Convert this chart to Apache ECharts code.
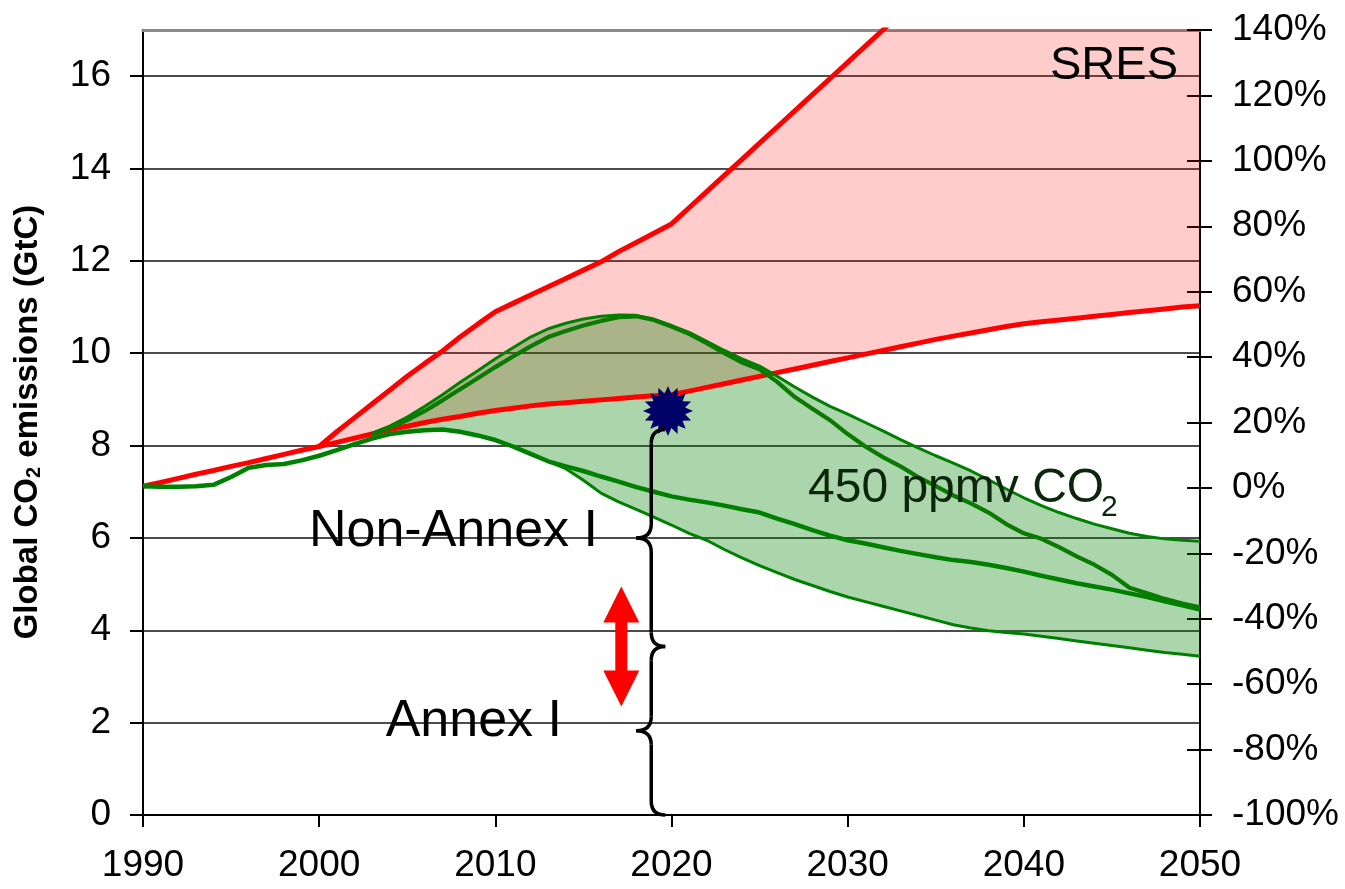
<!DOCTYPE html>
<html><head><meta charset="utf-8">
<script src="https://cdn.jsdelivr.net/npm/echarts@6/dist/echarts.min.js"></script>
<style>html,body{margin:0;padding:0;background:#fff}#c{width:1345px;height:889px}</style>
</head><body><div id="c"></div>
<script>
// ---------------- DATA (GtC) ----------------
const xTicks = [1990, 2000, 2010, 2020, 2030, 2040, 2050];
const yTicks = [0, 2, 4, 6, 8, 10, 12, 14, 16];
const pctTicks = [-100, -80, -60, -40, -20, 0, 20, 40, 60, 80, 100, 120, 140];

// historic + SRES lower bound, yearly from 1990
const sresLow = [7.12,7.20,7.29,7.38,7.46,7.55,7.63,7.72,7.81,7.90,
  7.98,8.07,8.16,8.25,8.35,8.42,8.50,8.57,8.63,8.70,
  8.76,8.81,8.86,8.90,8.93,8.96,8.99,9.02,9.05,9.08,
  9.10,9.18,9.26,9.34,9.42,9.50,9.58,9.66,9.74,9.82,
  9.90,9.98,10.06,10.14,10.22,10.30,10.37,10.44,10.51,10.58,
  10.64,10.68,10.72,10.76,10.80,10.84,10.88,10.92,10.96,11.00,11.03];
// SRES upper bound, yearly from 2000
const sresHigh = [7.98,8.30,8.60,8.90,9.20,9.50,9.78,10.05,10.35,10.63,
  10.90,11.08,11.26,11.44,11.62,11.80,11.98,12.20,12.40,12.60,
  12.80,13.15,13.50,13.85,14.20,14.55,14.90,15.25,15.60,15.95,
  16.30,16.65,17.00,17.35,17.70,18.00,18.40,18.70,19.10,19.40,
  19.80,20.10,20.50,20.80,21.20,21.50,21.90,22.20,22.60,22.90,23.10];
// 450 ppmv: main stabilisation path incl. historic, yearly from 1990
const path450 = [7.12,7.11,7.11,7.12,7.15,7.32,7.52,7.58,7.60,7.68,
  7.78,7.90,8.03,8.15,8.25,8.30,8.33,8.35,8.30,8.22,
  8.12,7.98,7.82,7.66,7.55,7.45,7.33,7.22,7.10,7.00,
  6.90,6.83,6.77,6.70,6.62,6.55,6.42,6.30,6.17,6.05,
  5.95,5.88,5.80,5.72,5.65,5.58,5.52,5.48,5.42,5.35,
  5.27,5.18,5.10,5.02,4.95,4.88,4.80,4.72,4.63,4.54,4.45];
// 450 ppmv overshoot path, yearly from 2003
const overshoot450 = [8.25,8.38,8.55,8.75,8.98,9.22,9.46,
  9.70,9.93,10.15,10.35,10.48,10.60,10.70,10.78,10.80,10.72,
  10.58,10.42,10.22,10.00,9.80,9.65,9.38,9.05,8.80,8.55,
  8.25,7.98,7.75,7.55,7.32,7.12,6.92,6.75,6.55,6.30,
  6.10,5.98,5.80,5.60,5.42,5.20,4.92,4.80,4.68,4.58,4.50];
// 450 ppmv range upper bound, yearly from 2003
const upper450 = [8.27,8.42,8.62,8.85,9.10,9.37,9.62,
  9.88,10.12,10.35,10.53,10.65,10.74,10.80,10.83,10.82,10.74,
  10.60,10.45,10.26,10.06,9.88,9.72,9.50,9.27,9.05,8.85,
  8.68,8.50,8.32,8.13,7.95,7.78,7.62,7.45,7.26,7.06,
  6.87,6.70,6.55,6.42,6.30,6.20,6.10,6.03,5.98,5.95,5.93];
// 450 ppmv range lower bound, yearly from 2003
const lower450 = [8.15,8.25,8.30,8.33,8.35,8.30,8.22,
  8.12,7.98,7.82,7.66,7.50,7.25,6.97,6.78,6.62,6.45,
  6.28,6.10,5.95,5.75,5.57,5.40,5.25,5.10,4.97,4.84,
  4.72,4.62,4.52,4.42,4.32,4.22,4.12,4.05,3.99,3.95,
  3.92,3.87,3.82,3.77,3.72,3.67,3.62,3.57,3.52,3.48,3.44];
const starPoint = [2019.8, 8.75];
// annotation anchors (data units)
const braceYear = 2018.85, braceLevels = [8.35, 3.65, 0];
const arrowYear = 2017.15, arrowRange = [2.35, 4.95];

// ---------------- helpers ----------------
const Y_MAX = 17;
const pairs = (start, vals) => vals.map((v, i) => [start + i, v]);
const FONT = 'Liberation Sans, Arial, sans-serif';
const starPath = (() => {
  let d = '';
  for (let i = 0; i < 32; i++) {
    const a = i * Math.PI / 16 - Math.PI / 2, r = i % 2 ? 70 : 100;
    d += (i ? 'L' : 'M') + (100 + r * Math.cos(a)).toFixed(2) + ' ' + (100 + r * Math.sin(a)).toFixed(2) + ' ';
  }
  return 'path://' + d + 'Z';
})();

// band polygon drawn through the axes' scales (api.coord)
function bandSeries(name, hiStart, hi, loStart, lo, start, fill) {
  return {
    type: 'custom', name, silent: true, clip: true, data: [[start, 0]],
    encode: {x: 0, y: 1},
    renderItem: (params, api) => {
      const top = [], bot = [];
      for (let i = 0; i < hi.length; i++) {
        const yr = hiStart + i;
        if (yr < start) continue;
        top.push(api.coord([yr, Math.min(hi[i], Y_MAX)]));
        bot.push(api.coord([yr, Math.min(lo[yr - loStart], Y_MAX)]));
      }
      return {type: 'polygon', shape: {points: top.concat(bot.reverse())}, style: {fill: fill}};
    }
  };
}

const chart = echarts.init(document.getElementById('c'), null, {renderer: 'canvas'});
const lineBase = {type: 'line', symbol: 'none', showSymbol: false, xAxisIndex: 0, yAxisIndex: 0, silent: true};
const option = {
  animation: false,
  grid: {left: 143, right: 145, top: 30, bottom: 74, containLabel: false},
  xAxis: [{
    type: 'value', min: 1990, max: 2050, interval: 10, position: 'bottom',
    axisLine: {onZero: false, lineStyle: {color: '#000', width: 2}},
    axisTick: {length: 12, lineStyle: {color: '#000', width: 2}},
    axisLabel: {color: '#000', fontSize: 37, fontFamily: FONT, margin: 32, formatter: v => String(v)},
    splitLine: {show: false}
  }, {
    type: 'value', min: 1990, max: 2050, position: 'top',
    axisLine: {show: true, onZero: false, lineStyle: {color: '#8a8a8a', width: 3}},
    axisTick: {show: false}, axisLabel: {show: false}, splitLine: {show: false}
  }],
  yAxis: [{
    type: 'value', min: 0, max: Y_MAX, interval: 2, position: 'left',
    axisLine: {show: true, onZero: false, lineStyle: {color: '#000', width: 2}},
    axisTick: {show: true, length: 13, lineStyle: {color: '#000', width: 2}, customValues: yTicks},
    axisLabel: {color: '#000', fontSize: 37, fontFamily: FONT, margin: 32, customValues: yTicks},
    splitLine: {show: true, lineStyle: {color: '#111', width: 1.6}}
  }, {
    type: 'value', min: -100, max: 140, interval: 20, position: 'right',
    axisLine: {show: true, onZero: false, lineStyle: {color: '#000', width: 2}},
    axisTick: {show: true, length: 12, lineStyle: {color: '#000', width: 2}},
    axisLabel: {color: '#000', fontSize: 37, fontFamily: FONT, margin: 32, formatter: v => v + '%'},
    splitLine: {show: false}
  }, {
    type: 'value', min: -100, max: 140, interval: 20, position: 'right',
    axisLine: {show: false, onZero: false},
    axisTick: {show: true, inside: true, length: 13, lineStyle: {color: '#000', width: 2}},
    axisLabel: {show: false}, splitLine: {show: false}
  }],
  series: [
    bandSeries('SRES range', 2000, sresHigh, 1990, sresLow, 2000, 'rgba(255,0,0,0.2)'),
    Object.assign({}, lineBase, {name: 'SRES low', data: pairs(1990, sresLow), lineStyle: {color: '#ff0000', width: 5}}),
    Object.assign({}, lineBase, {name: 'SRES high', data: pairs(2000, sresHigh), lineStyle: {color: '#ff0000', width: 5}}),
    bandSeries('450 range', 2003, upper450, 2003, lower450, 2003, 'rgba(0,128,0,0.33)'),
    Object.assign({}, lineBase, {name: '450 upper', data: pairs(2003, upper450), lineStyle: {color: '#008000', width: 3}}),
    Object.assign({}, lineBase, {name: '450 lower', data: pairs(2003, lower450), lineStyle: {color: '#008000', width: 3}}),
    Object.assign({}, lineBase, {name: '450 overshoot', data: pairs(2003, overshoot450), lineStyle: {color: '#0a7a00', width: 4.2}}),
    Object.assign({}, lineBase, {name: '450 path', data: pairs(1990, path450), lineStyle: {color: '#008000', width: 4.5}}),
    {type: 'scatter', name: 'now', data: [starPoint], symbol: starPath, symbolSize: 50, symbolKeepAspect: true,
      itemStyle: {color: '#000066', opacity: 1}, z: 5, silent: true}
  ]
};
chart.setOption(option);

// ---------------- annotations ----------------
const P = (x, y) => chart.convertToPixel({xAxisIndex: 0, yAxisIndex: 0}, [x, y]);
const strokeStyle = {stroke: '#000', lineWidth: 3.5, fill: null};
function braceParts(X, y1, y2, w, r) {
  const ym = (y1 + y2) / 2;
  const seg = (shape, type) => ({type, shape, style: strokeStyle, z: 10, silent: true});
  return [
    seg({x1: X + r, y1: y1, cpx1: X, cpy1: y1, x2: X, y2: y1 + r}, 'bezierCurve'),
    seg({x1: X, y1: y1 + r, x2: X, y2: ym - r}, 'line'),
    seg({x1: X, y1: ym - r, cpx1: X, cpy1: ym, x2: X - w, y2: ym}, 'bezierCurve'),
    seg({x1: X - w, y1: ym, cpx1: X, cpy1: ym, x2: X, y2: ym + r}, 'bezierCurve'),
    seg({x1: X, y1: ym + r, x2: X, y2: y2 - r}, 'line'),
    seg({x1: X, y1: y2 - r, cpx1: X, cpy1: y2, x2: X + r, y2: y2}, 'bezierCurve')
  ];
}
const bx = P(braceYear, 0)[0];
const bY = braceLevels.map(v => P(braceYear, v)[1]);
const ax = P(arrowYear, 0)[0];
const aTop = P(arrowYear, arrowRange[1])[1], aBot = P(arrowYear, arrowRange[0])[1];
const hw = 18, hh = 36, sw = 6;
const arrowPts = [[ax, aTop], [ax + hw, aTop + hh], [ax + sw, aTop + hh], [ax + sw, aBot - hh], [ax + hw, aBot - hh],
  [ax, aBot], [ax - hw, aBot - hh], [ax - sw, aBot - hh], [ax - sw, aTop + hh], [ax - hw, aTop + hh]];

const graphics = [].concat(
  braceParts(bx, bY[0], bY[1], 15, 14),
  braceParts(bx, bY[1], bY[2], 15, 14),
  [
  {type: 'polygon', shape: {points: arrowPts}, style: {fill: '#ff0000'}, z: 10, silent: true},
  {type: 'text', x: 28, y: 422, rotation: Math.PI / 2, z: 10, silent: true,
    style: {text: 'Global CO{s|2} emissions (GtC)', font: `bold 33px ${FONT}`, fill: '#000', align: 'center', verticalAlign: 'middle',
      rich: {s: {fontSize: 20, fontWeight: 'bold', fontFamily: FONT, fill: '#000', verticalAlign: 'bottom', padding: [12, 0, 0, 0]}}}},
  {type: 'text', z: 10, silent: true, style: {x: 598, y: 532, text: 'Non-Annex I', font: `52px ${FONT}`, fill: '#000', align: 'right', verticalAlign: 'middle'}},
  {type: 'text', z: 10, silent: true, style: {x: 562, y: 722, text: 'Annex I', font: `52px ${FONT}`, fill: '#000', align: 'right', verticalAlign: 'middle'}},
  {type: 'text', z: 10, silent: true, style: {x: 1178, y: 66, text: 'SRES', font: `47px ${FONT}`, fill: '#000', align: 'right', verticalAlign: 'middle'}},
  {type: 'text', z: 10, silent: true, style: {x: 808, y: 489, text: '450 ppmv CO', font: `48px ${FONT}`, fill: '#0c260c', align: 'left', verticalAlign: 'middle'}},
  {type: 'text', z: 10, silent: true, style: {x: 1101, y: 508, text: '2', font: `30px ${FONT}`, fill: '#0c260c', align: 'left', verticalAlign: 'middle'}}
  ]);
chart.setOption({graphic: graphics});
</script></body></html>
